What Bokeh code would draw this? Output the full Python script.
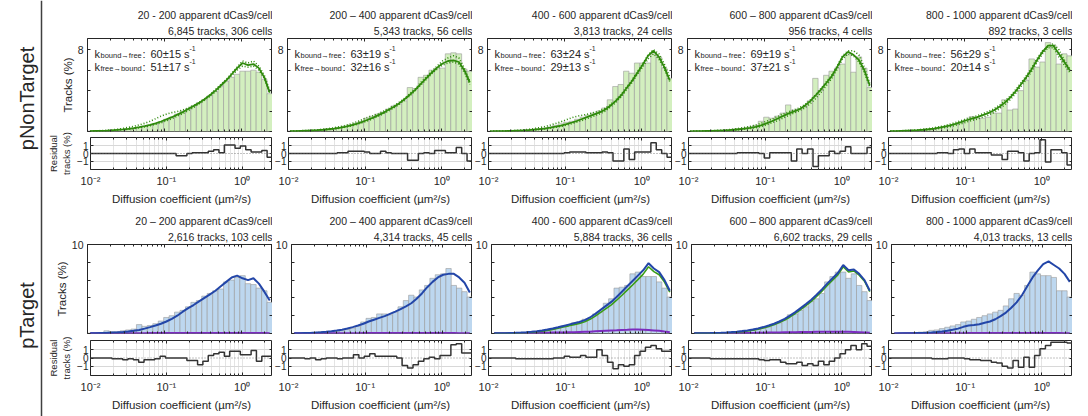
import math
from bokeh.plotting import figure
from bokeh.models import (Range1d, FixedTicker, LogAxis, LinearAxis, Title, Label,
                          Span, CustomJSTickFormatter)
from bokeh.layouts import row, column
from bokeh.embed import file_html
from bokeh.resources import INLINE

# ---------------------------------------------------------------- data
# log10 of the histogram bin edges (µm²/s)
log_edges = [-2.000, -1.929, -1.859, -1.788, -1.718, -1.647, -1.576, -1.506, -1.435,
             -1.365, -1.294, -1.224, -1.153, -1.082, -1.012, -0.941, -0.871, -0.800,
             -0.729, -0.659, -0.588, -0.518, -0.447, -0.376, -0.306, -0.235, -0.165,
             -0.094, -0.024, 0.047, 0.118, 0.188, 0.259, 0.329, 0.400]

top_titles = ["20 - 200 apparent dCas9/cell", "200 – 400 apparent dCas9/cell",
              "400 - 600 apparent dCas9/cell", "600 – 800 apparent dCas9/cell",
              "800 - 1000 apparent dCas9/cell"]
top_counts = ["6,845 tracks, 306 cells", "5,343 tracks, 56 cells", "3,813 tracks, 24 cells",
              "956 tracks, 4 cells", "892 tracks, 3 cells"]
bot_titles = ["20 – 200 apparent dCas9/cell", "200 – 400 apparent dCas9/cell",
              "400 - 600 apparent dCas9/cell", "600 – 800 apparent dCas9/cell",
              "800 - 1000 apparent dCas9/cell"]
bot_counts = ["2,616 tracks, 103 cells", "4,314 tracks, 45 cells", "5,884 tracks, 36 cells",
              "6,602 tracks, 29 cells", "4,013 tracks, 13 cells"]
k_bound_free = ["60±15", "63±19", "63±24", "69±19", "56±29"]
k_free_bound = ["51±17", "32±16", "29±13", "37±21", "20±14"]

# pNonTarget (top row): histogram, fit, two alternative fits (dotted), residual
NT1_hist = [0.05,0.06,0.08,0.1,0.12,0.15,0.2,0.25,0.3,0.4,0.5,0.6,0.75,0.95,1.2,1.4,1.7,2.0,2.2,2.5,2.8,3.1,3.5,3.9,4.4,4.9,5.3,5.6,5.9,5.9,6.0,5.8,5.1,3.7]
NT1_fit = [0.03,0.05,0.07,0.09,0.12,0.16,0.2,0.26,0.33,0.42,0.52,0.64,0.8,0.98,1.18,1.4,1.65,1.9,2.2,2.5,2.8,3.15,3.55,4.0,4.5,5.0,5.6,6.2,6.7,6.5,6.6,6.2,5.3,3.8]
NT1_alt1 = [0.04,0.06,0.09,0.12,0.16,0.22,0.3,0.4,0.5,0.65,0.8,1.0,1.25,1.5,1.7,1.85,1.95,2.1,2.3,2.55,2.85,3.2,3.6,4.1,4.6,5.1,5.7,6.3,6.9,6.7,6.9,6.4,5.5,4.0]
NT1_alt2 = [0.02,0.04,0.05,0.07,0.1,0.13,0.17,0.22,0.28,0.36,0.45,0.56,0.7,0.85,1.05,1.25,1.5,1.75,2.05,2.35,2.7,3.05,3.45,3.9,4.4,4.95,5.5,6.0,6.4,6.3,6.4,6.0,5.2,3.7]
NT1_res = [0,0,0,0,0,0,0,0,0,0,0,0,0,0,0,0,-0.3,-0.3,0,0.1,0.1,0.1,0.3,0.5,0.1,1.1,1.1,0.7,1.0,0.5,0.2,0.2,0.4,-0.5]

NT2_hist = [0.05,0.06,0.08,0.1,0.12,0.15,0.2,0.25,0.3,0.4,0.5,0.65,0.8,1.0,1.3,1.5,1.7,1.9,2.2,2.5,2.7,3.0,4.3,4.2,5.3,5.5,6.0,6.2,6.2,7.6,7.7,7.6,6.1,5.9]
NT2_fit = [0.03,0.04,0.06,0.08,0.1,0.13,0.17,0.22,0.28,0.36,0.46,0.58,0.72,0.9,1.1,1.3,1.55,1.8,2.1,2.4,2.75,3.15,3.6,4.1,4.65,5.2,5.75,6.25,6.65,6.9,6.95,6.8,6.0,4.8]
NT2_alt1 = [0.04,0.06,0.08,0.1,0.13,0.17,0.22,0.28,0.36,0.46,0.58,0.72,0.9,1.1,1.35,1.5,1.7,1.95,2.2,2.5,2.85,3.25,3.7,4.2,4.8,5.35,5.9,6.4,6.9,7.2,7.4,7.2,6.2,4.9]
NT2_alt2 = [0.02,0.03,0.05,0.07,0.09,0.11,0.15,0.19,0.25,0.32,0.41,0.52,0.66,0.83,1.0,1.2,1.45,1.7,2.0,2.3,2.65,3.05,3.5,4.0,4.55,5.1,5.65,6.1,6.5,6.7,6.8,6.6,5.8,4.6]
NT2_res = [0,0,0,0,0,0,0,0,0,0.1,0.1,0.3,0.3,0.3,0.2,0,0,0.3,0.1,0,0,0,-0.9,-0.9,0,0.1,0,0.4,0.4,0.1,0.1,0.8,0,-1.0]

NT3_hist = [0.03,0.04,0.05,0.07,0.09,0.11,0.14,0.18,0.22,0.28,0.35,0.45,0.6,0.75,0.9,1.0,1.2,1.4,1.6,1.8,2.0,2.3,3.1,4.4,4.6,5.9,5.7,6.7,6.7,6.7,7.6,7.3,6.2,5.2]
NT3_fit = [0.02,0.03,0.04,0.05,0.07,0.09,0.11,0.14,0.18,0.23,0.29,0.37,0.47,0.58,0.72,0.88,1.05,1.25,1.45,1.65,1.85,2.1,2.5,2.95,3.5,4.2,4.9,5.7,6.5,7.4,7.9,7.3,6.3,5.0]
NT3_alt1 = [0.03,0.04,0.05,0.07,0.09,0.12,0.16,0.21,0.28,0.37,0.48,0.62,0.78,0.95,1.15,1.35,1.5,1.6,1.7,1.85,2.0,2.25,2.6,3.05,3.6,4.3,5.0,5.8,6.6,7.5,8.0,7.6,6.6,5.3]
NT3_alt2 = [0.01,0.02,0.03,0.04,0.05,0.07,0.09,0.12,0.15,0.19,0.24,0.31,0.4,0.5,0.62,0.77,0.93,1.1,1.3,1.5,1.7,1.95,2.35,2.8,3.35,4.05,4.75,5.55,6.3,7.1,7.6,7.1,6.1,4.9]
NT3_res = [0,0,0,0,0,0,0,0,0,0,0,0,0,0,0.1,0.2,0.2,0.2,0.1,0.1,0.1,0.2,0.1,-1.0,-1.0,0.6,-0.8,0.2,0.2,0.2,1.4,0.5,0,-0.5]

NT4_hist = [0.03,0.04,0.05,0.06,0.08,0.1,0.13,0.17,0.22,0.28,0.35,0.45,0.6,1.0,1.4,1.3,1.5,1.8,2.6,2.1,2.2,2.4,3.0,5.2,4.0,5.5,5.9,6.2,6.6,7.5,5.8,7.3,6.2,4.3]
NT4_fit = [0.02,0.03,0.04,0.05,0.06,0.08,0.1,0.13,0.17,0.22,0.28,0.36,0.46,0.6,0.8,1.0,1.25,1.5,1.75,1.95,2.15,2.5,2.95,3.5,4.1,4.75,5.4,6.3,7.3,7.8,7.5,7.0,6.0,4.5]
NT4_alt1 = [0.03,0.04,0.05,0.07,0.09,0.11,0.14,0.18,0.24,0.31,0.4,0.5,0.63,0.8,1.0,1.2,1.45,1.7,1.9,2.1,2.3,2.6,3.05,3.6,4.2,4.85,5.5,6.4,7.4,7.9,7.9,7.5,6.3,4.7]
NT4_alt2 = [0.01,0.02,0.03,0.04,0.05,0.06,0.08,0.1,0.13,0.17,0.22,0.29,0.37,0.48,0.65,0.85,1.05,1.3,1.55,1.8,2.0,2.3,2.7,3.2,3.8,4.5,5.2,6.1,7.1,7.6,7.4,6.8,5.8,4.3]
NT4_res = [0,0,0,0,0,0,0,0,0,0.1,0.1,0.1,0.1,0,-0.6,0.1,0.1,0.1,0.1,-1.0,0.6,0,0.6,-1.7,-0.3,-0.3,0.3,0,0.3,0.9,0,0,0,0.8]

NT5_hist = [0.02,0.03,0.04,0.05,0.07,0.09,0.12,0.16,0.2,0.3,0.4,0.5,0.7,0.9,1.1,1.45,1.3,1.3,1.4,1.8,1.8,3.1,2.1,2.2,4.0,5.0,7.1,6.3,6.8,8.7,8.4,6.6,7.6,7.4]
NT5_fit = [0.03,0.04,0.06,0.08,0.1,0.13,0.17,0.22,0.29,0.37,0.47,0.6,0.75,0.92,1.1,1.25,1.4,1.6,1.8,2.05,2.4,2.8,3.3,3.9,4.6,5.3,6.1,7.0,7.8,8.4,8.4,7.6,6.8,6.0]
NT5_alt1 = [0.04,0.05,0.07,0.1,0.13,0.17,0.22,0.28,0.36,0.46,0.58,0.72,0.88,1.05,1.25,1.4,1.55,1.75,1.95,2.2,2.55,2.95,3.45,4.05,4.75,5.45,6.25,7.15,7.9,8.3,8.6,8.0,7.0,6.1]
NT5_alt2 = [0.02,0.03,0.04,0.06,0.08,0.1,0.13,0.17,0.22,0.29,0.37,0.47,0.6,0.75,0.92,1.08,1.22,1.4,1.6,1.85,2.2,2.6,3.1,3.7,4.4,5.1,5.9,6.8,7.6,8.2,8.2,7.3,6.5,5.8]
NT5_res = [0,0,0,0,0,0,0,0,0,0.1,0.1,0,0.5,0.6,0,0.6,0.1,0.1,0.1,-0.2,-0.2,-0.8,0.3,0.3,0.1,-1.0,0,0.1,1.8,-1.1,0.5,0.5,0.1,-1.5]

# pTarget (bottom row): histogram, total fit (blue), mobile part (green), bound part (purple), residual
T1_hist = [0.05,0.08,0.1,0.3,0.2,0.2,0.3,0.4,0.5,1.0,0.8,0.9,1.1,1.4,1.8,2.0,2.4,2.6,3.0,3.5,3.7,4.2,4.5,4.8,5.0,5.8,6.0,6.3,6.5,5.6,5.5,5.1,4.8,3.5]
T1_fit = [0.02,0.03,0.05,0.07,0.1,0.13,0.17,0.22,0.3,0.4,0.55,0.72,0.9,1.1,1.35,1.65,2.0,2.45,2.85,3.2,3.6,4.0,4.4,4.8,5.3,5.8,6.3,6.5,6.2,6.0,6.2,5.6,4.7,3.7]
T1_purple = [0.02,0.02,0.02,0.03,0.03,0.03,0.03,0.04,0.04,0.04,0.04,0.05,0.05,0.05,0.05,0.06,0.06,0.06,0.06,0.06,0.07,0.07,0.07,0.07,0.07,0.07,0.07,0.07,0.06,0.06,0.06,0.05,0.05,0.04]
T1_res = [0,0,0,0,-0.1,-0.1,-0.2,-0.1,-0.2,-0.5,-0.2,-0.2,-0.1,0.2,0,0,0,0,-0.3,-0.3,-0.8,-0.4,0.3,0.5,0.7,0.2,0.8,0.8,0.4,0.4,0.9,-0.4,0.2,0.2]

T2_hist = [0.02,0.03,0.05,0.06,0.1,0.2,0.15,0.2,0.25,0.3,0.45,0.6,0.8,1.3,1.7,1.8,2.2,2.2,2.1,2.4,3.0,3.7,4.3,4.1,4.9,5.4,6.2,6.6,6.7,7.3,5.4,5.1,4.7,4.1]
T2_fit = [0.02,0.03,0.05,0.07,0.1,0.14,0.19,0.25,0.33,0.43,0.56,0.72,0.9,1.1,1.35,1.55,1.75,1.95,2.2,2.45,2.75,3.05,3.4,3.9,4.5,5.2,5.8,6.3,6.6,6.7,6.7,6.3,5.7,4.6]
T2_purple = [0.02,0.02,0.02,0.02,0.03,0.03,0.03,0.03,0.03,0.04,0.04,0.04,0.04,0.05,0.05,0.05,0.05,0.05,0.06,0.06,0.06,0.06,0.06,0.06,0.06,0.06,0.06,0.06,0.05,0.05,0.05,0.04,0.04,0.03]
T2_res = [0,0,0,-0.1,0,-0.2,-0.1,0,0,-0.1,0,0,0.4,0,0.2,0.5,0.2,0.2,0.2,0.2,0,-0.9,-1.2,-0.8,-0.4,-0.1,0.1,-0.1,0.3,0.3,1.6,1.7,0.6,0.6]

T3_hist = [0.02,0.03,0.04,0.05,0.07,0.1,0.12,0.15,0.2,0.28,0.4,0.5,0.65,0.85,0.95,1.2,1.3,1.6,1.7,2.2,2.4,3.4,3.9,5.1,5.2,5.4,6.7,6.9,6.4,6.4,6.4,5.8,5.1,4.1]
T3_fit = [0.02,0.03,0.04,0.06,0.08,0.11,0.15,0.2,0.26,0.34,0.44,0.56,0.7,0.85,1.0,1.15,1.3,1.5,1.8,2.2,2.65,3.1,3.55,4.1,4.7,5.3,5.9,6.5,7.1,7.9,7.3,6.9,6.0,4.8]
T3_green = [0.0,0.0,0.0,0.02,0.03,0.06,0.09,0.14,0.19,0.26,0.35,0.46,0.59,0.73,0.86,1.0,1.13,1.31,1.59,1.96,2.38,2.8,3.22,3.74,4.3,4.88,5.45,6.05,6.67,7.5,6.95,6.6,5.78,4.65]
T3_purple = [0.03,0.03,0.04,0.04,0.05,0.05,0.06,0.06,0.07,0.08,0.09,0.1,0.11,0.12,0.14,0.15,0.17,0.19,0.21,0.24,0.27,0.3,0.33,0.36,0.4,0.42,0.45,0.45,0.43,0.4,0.35,0.3,0.22,0.15]
T3_res = [0,0,0,0,0,-0.1,-0.1,-0.1,-0.1,-0.1,-0.1,-0.1,0,0,0.2,0.1,0.1,0.3,0.1,0.1,1.0,0.3,-0.5,-1.3,-0.8,-1.0,-0.8,0.3,0.8,1.3,1.5,1.1,0.8,0.8]

T4_hist = [0.02,0.03,0.04,0.05,0.06,0.08,0.1,0.13,0.17,0.22,0.28,0.36,0.45,0.6,0.75,1.0,1.2,1.5,2.1,2.2,2.6,3.0,3.6,3.9,4.5,5.8,6.4,6.9,6.9,6.2,6.7,5.4,4.7,3.7]
T4_fit = [0.02,0.03,0.04,0.05,0.07,0.09,0.12,0.16,0.21,0.27,0.35,0.45,0.57,0.72,0.9,1.1,1.35,1.65,2.0,2.4,2.85,3.3,3.8,4.35,4.95,5.6,6.2,6.8,7.7,7.1,7.2,6.7,6.0,4.8]
T4_green = [0.0,0.01,0.01,0.02,0.04,0.05,0.08,0.11,0.16,0.21,0.28,0.38,0.49,0.63,0.8,0.99,1.23,1.52,1.86,2.25,2.69,3.13,3.62,4.16,4.75,5.4,5.99,6.59,7.5,6.91,7.03,6.55,5.88,4.71]
T4_purple = [0.02,0.02,0.03,0.03,0.03,0.04,0.04,0.05,0.05,0.06,0.07,0.07,0.08,0.09,0.1,0.11,0.12,0.13,0.14,0.15,0.16,0.17,0.18,0.19,0.2,0.2,0.21,0.21,0.2,0.19,0.17,0.15,0.12,0.09]
T4_res = [0,0,0,0,-0.1,-0.1,-0.1,-0.1,-0.1,-0.1,-0.1,-0.1,-0.1,-0.2,-0.3,-0.2,-0.2,-0.5,-0.7,-0.7,-0.5,-0.9,-0.7,-0.9,-0.4,-0.8,-0.4,0,0.5,1.0,1.5,1.0,1.7,1.4]

T5_hist = [0.02,0.03,0.05,0.07,0.1,0.15,0.2,0.35,0.4,0.55,0.7,0.85,1.0,1.3,1.4,1.6,1.8,2.0,2.2,2.4,2.6,3.1,3.9,4.5,4.3,5.4,6.9,6.7,6.5,6.5,6.3,4.8,4.8,4.1]
T5_fit = [0.01,0.02,0.03,0.04,0.05,0.07,0.09,0.12,0.16,0.22,0.3,0.42,0.55,0.75,0.9,0.95,1.05,1.2,1.35,1.6,1.95,2.35,2.9,3.5,4.3,5.3,6.3,7.1,7.8,8.1,7.7,7.3,6.7,5.8]
T5_purple = [0.01,0.01,0.02,0.02,0.02,0.02,0.03,0.03,0.03,0.03,0.04,0.04,0.04,0.04,0.05,0.05,0.05,0.05,0.05,0.06,0.06,0.06,0.06,0.06,0.06,0.06,0.06,0.06,0.06,0.05,0.05,0.05,0.04,0.04]
T5_res = [0,0,0,0,0,0,0,0,-0.1,-0.1,-0.1,0,0,0,-0.1,-0.2,-0.2,-0.3,-0.3,-0.5,-0.6,-1.0,-1.2,-0.3,-1.1,0.1,-1.1,0.3,1.1,1.5,1.9,1.9,1.9,1.8]

NT_hist = [NT1_hist, NT2_hist, NT3_hist, NT4_hist, NT5_hist]
NT_fit = [NT1_fit, NT2_fit, NT3_fit, NT4_fit, NT5_fit]
NT_alt1 = [NT1_alt1, NT2_alt1, NT3_alt1, NT4_alt1, NT5_alt1]
NT_alt2 = [NT1_alt2, NT2_alt2, NT3_alt2, NT4_alt2, NT5_alt2]
NT_res = [NT1_res, NT2_res, NT3_res, NT4_res, NT5_res]
T_hist = [T1_hist, T2_hist, T3_hist, T4_hist, T5_hist]
T_fit = [T1_fit, T2_fit, T3_fit, T4_fit, T5_fit]
T_green = [None, None, T3_green, T4_green, None]
T_purple = [T1_purple, T2_purple, T3_purple, T4_purple, T5_purple]
T_res = [T1_res, T2_res, T3_res, T4_res, T5_res]

for arr in NT_hist + NT_fit + NT_alt1 + NT_alt2 + NT_res + T_hist + T_fit + T_purple + T_res + [T3_green, T4_green]:
    assert len(arr) == len(log_edges) - 1

# ---------------------------------------------------------------- geometry / style
edges = [10 ** v for v in log_edges]
lefts, rights = edges[:-1], edges[1:]
centers = [10 ** ((a + b) / 2) for a, b in zip(log_edges[:-1], log_edges[1:])]
XMIN, XMAX = edges[0], edges[-1]

FONT = "Liberation Sans"
TXT = "#262626"
FRAME = 185
GREEN_FILL, BLUE_FILL, BAR_EDGE = "#d3efbf", "#bdd7ef", "#9a9a9a"
GREEN_LINE, BLUE_LINE, GREEN2, PURPLE = "#2f8a0c", "#2346a8", "#3a9d16", "#7b2cbf"

x_major = [0.01, 0.1, 1]
x_minor = [m * d for d in (0.01, 0.1, 1.0) for m in range(2, 10) if m * d < XMAX]
x_tick = FixedTicker(ticks=x_major, minor_ticks=x_minor)


def js_fmt(mapping):
    body = ",".join("'%s':'%s'" % (k, v) for k, v in mapping.items())
    return CustomJSTickFormatter(code="const m={%s}; const s=String(tick); return (s in m) ? m[s] : '';" % body)


blank_fmt = CustomJSTickFormatter(code="return '';")


def style_axis(ax, fs=None, standoff=2):
    ax.axis_line_color = None
    ax.major_tick_in = 3
    ax.major_tick_out = 0
    ax.minor_tick_in = 2
    ax.minor_tick_out = 0
    ax.major_tick_line_color = TXT
    ax.minor_tick_line_color = TXT
    ax.major_label_text_font = FONT
    ax.major_label_text_color = TXT
    ax.axis_label_text_font = FONT
    ax.axis_label_text_font_style = "normal"
    ax.axis_label_text_color = TXT
    if fs is None:
        ax.formatter = blank_fmt
        ax.major_label_text_font_size = "0px"
        ax.major_label_standoff = 0
    else:
        ax.major_label_text_font_size = fs
        ax.major_label_standoff = standoff


def base_fig(col, top_b, frame_h, bot_b, y0, y1):
    left = 43 if col == 0 else 15
    p = figure(width=left + FRAME, height=top_b + frame_h + bot_b, x_axis_type="log",
               x_range=Range1d(XMIN, XMAX), y_range=Range1d(y0, y1), title=None,
               toolbar_location=None, output_backend="svg",
               min_border_left=left, min_border_right=0, min_border_top=top_b,
               min_border_bottom=bot_b)
    p.outline_line_color = TXT
    p.outline_line_width = 1
    p.background_fill_color = "white"
    p.border_fill_color = "white"
    bottom_ax = p.below[0]
    left_ax = p.left[0]
    bottom_ax.ticker = x_tick
    top_ax = LogAxis(ticker=x_tick)
    right_ax = LinearAxis()
    p.add_layout(top_ax, "above")
    p.add_layout(right_ax, "right")
    style_axis(top_ax)
    style_axis(right_ax)
    return p, bottom_ax, left_ax, right_ax


def make_main(col, group):
    top = group == 0
    ymax = 9.1 if top else 10
    yt = [0, 2, 4, 6, 8] if top else [0, 2, 4, 6, 8, 10]
    p, bax, lax, rax = base_fig(col, 38 if top else 36, 93 if top else 89, 1, 0, ymax)
    p.xgrid.visible = False
    p.ygrid.visible = False
    yfix = FixedTicker(ticks=yt)
    lax.ticker = yfix
    rax.ticker = yfix
    style_axis(bax)
    style_axis(lax, "10.5px", 4)
    lax.formatter = js_fmt({"8": "8"} if top else {"10": "10"})
    if col == 0:
        lax.axis_label = "Tracks (%)"
        lax.axis_label_text_font_size = "11.5px"
        lax.axis_label_standoff = 1

    titles = top_titles if top else bot_titles
    counts = top_counts if top else bot_counts
    for txt, so in ((counts[col], 3), (titles[col], 1)):
        p.add_layout(Title(text=txt, align="right", standoff=so, text_font=FONT,
                           text_font_size="10.5px", text_font_style="normal",
                           text_color=TXT), "above")

    if top:
        p.quad(left=lefts, right=rights, bottom=0, top=NT_hist[col], fill_color=GREEN_FILL,
               line_color=BAR_EDGE, line_width=0.6)
        for alt in (NT_alt1[col], NT_alt2[col]):
            p.line(centers, alt, line_color=GREEN_LINE, line_width=1.6, line_dash="1 2")
        p.line(centers, NT_fit[col], line_color=GREEN_LINE, line_width=1.8)
        # rate constants
        lines = (("bound→free", k_bound_free[col]), ("free→bound", k_free_bound[col]))
        for j, (sub, val) in enumerate(lines):
            base = -15 - 13 * j
            common = dict(x=XMIN, y=ymax, text_font=FONT, text_color=TXT, text_baseline="alphabetic")
            p.add_layout(Label(text="k", x_offset=7, y_offset=base, text_font_size="11px", **common))
            p.add_layout(Label(text=sub, x_offset=13, y_offset=base - 2, text_font_size="7.5px", **common))
            p.add_layout(Label(text=":", x_offset=55, y_offset=base, text_font_size="11px", **common))
            p.add_layout(Label(text=val + " s", x_offset=63, y_offset=base, text_font_size="11px", **common))
            p.add_layout(Label(text="-1", x_offset=102, y_offset=base + 5, text_font_size="7px", **common))
    else:
        p.quad(left=lefts, right=rights, bottom=0, top=T_hist[col], fill_color=BLUE_FILL,
               line_color=BAR_EDGE, line_width=0.6)
        p.line(centers, T_purple[col], line_color=PURPLE, line_width=2)
        if T_green[col] is not None:
            p.line(centers, T_green[col], line_color=GREEN2, line_width=1.6)
        p.line(centers, T_fit[col], line_color=BLUE_LINE, line_width=2)
    return p


def make_res(col, group):
    top = group == 0
    res = NT_res[col] if top else T_res[col]
    p, bax, lax, rax = base_fig(col, 5 if top else 6, 32 if top else 35, 39 if top else 41, -2.1, 2.1)
    yfix = FixedTicker(ticks=[-1, 0, 1])
    lax.ticker = yfix
    rax.ticker = yfix
    style_axis(lax, "10px", 2)
    style_axis(bax, "11px", 5)
    bax.formatter = js_fmt({"0.01": "10⁻²", "0.1": "10⁻¹", "1": "10⁰"})
    bax.axis_label = "Diffusion coefficient (µm²/s)"
    bax.axis_label_text_font_size = "11.5px"
    bax.axis_label_standoff = 3
    if col == 0:
        lax.axis_label = "Residual\ntracks (%)"
        lax.axis_label_text_font_size = "9.5px"
        lax.axis_label_standoff = 2
    p.xgrid.ticker = x_tick
    p.xgrid.grid_line_color = "#e4e4e4"
    p.xgrid.minor_grid_line_color = "#e4e4e4"
    p.ygrid.ticker = FixedTicker(ticks=[-1, 1])
    p.ygrid.grid_line_color = "#d8d8d8"
    p.add_layout(Span(location=0, dimension="width", line_color="#666666",
                      line_dash="1 2", line_width=0.8))
    p.step(x=edges, y=res + [res[-1]], mode="after", line_color="#333333", line_width=1.5)
    return p


# left strip with the two row labels
lf = figure(width=44, height=416, x_range=Range1d(0, 44), y_range=Range1d(416, 0),
            x_axis_location=None, y_axis_location=None, title=None,
            toolbar_location=None, output_backend="svg", min_border=0)
lf.xgrid.visible = False
lf.ygrid.visible = False
lf.outline_line_color = None
lf.add_layout(Span(location=41, dimension="height", line_color="#404040", line_width=1.5))
for txt, yy in (("pNonTarget", 98), ("pTarget", 315)):
    lf.add_layout(Label(x=26, y=yy, text=txt, angle=math.pi / 2, text_align="center",
                        text_baseline="middle", text_font=FONT, text_font_size="20px",
                        text_color=TXT))

grid = column(
    row(*[make_main(c, 0) for c in range(5)]),
    row(*[make_res(c, 0) for c in range(5)]),
    row(*[make_main(c, 1) for c in range(5)]),
    row(*[make_res(c, 1) for c in range(5)]),
)
layout = row(lf, grid)

with open("out.html", "w", encoding="utf-8") as f:
    f.write(file_html(layout, INLINE))
